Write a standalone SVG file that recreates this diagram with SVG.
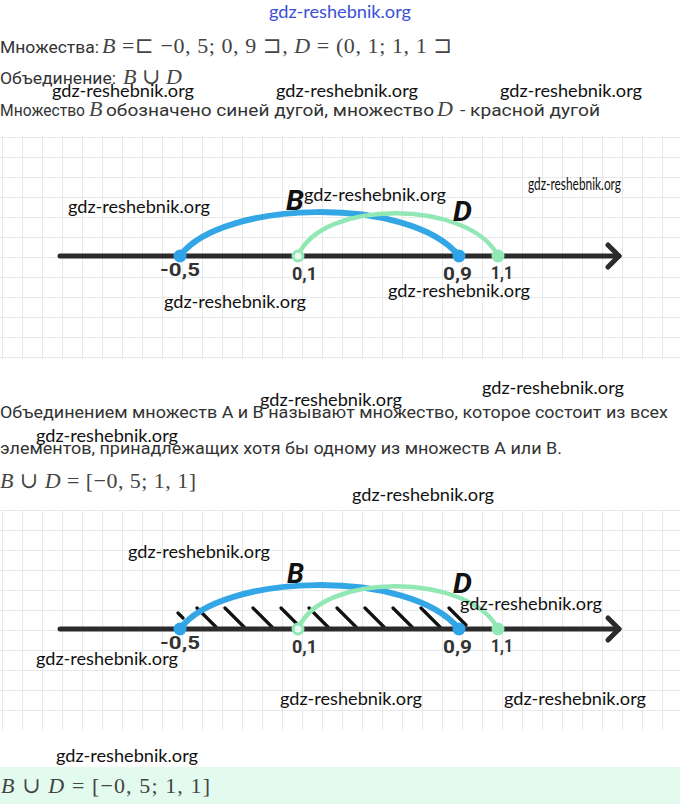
<svg xmlns="http://www.w3.org/2000/svg" width="680" height="804" viewBox="0 0 680 804">
<defs>
<style>
.t{font-family:Roboto,"Noto Sans",sans-serif;font-size:16.5px;fill:#333}
.m{font-family:"Liberation Serif","DejaVu Serif",serif;font-size:22px;fill:#444}
.mi{font-style:italic}
.wm{font-family:Lato,"Open Sans",sans-serif;font-size:18px;fill:#111}
.lbl{font-family:Roboto,sans-serif;font-weight:700;font-size:19px;fill:#333}
.set{font-family:Roboto,sans-serif;font-weight:700;font-style:italic;font-size:27px;fill:#111}
.axis{stroke:#2b2b2b;stroke-width:5;fill:none;stroke-linecap:round;stroke-linejoin:round}
.arcB{stroke:#33a6e6;stroke-width:6;fill:none;stroke-linecap:round}
.arcD{stroke:#92e8b5;stroke-width:4.5;fill:none;stroke-linecap:round}
.hatch{stroke:#111;stroke-width:3.2;stroke-linecap:round}
</style>
<pattern id="grid" x="2" y="137" width="20" height="20" patternUnits="userSpaceOnUse">
<path d="M0 0 H20 M0 0 V20" stroke="#e2e2e2" stroke-width="1.6" fill="none"/>
</pattern>
<pattern id="grid2" x="2" y="510" width="20" height="20" patternUnits="userSpaceOnUse">
<path d="M0 0 H20 M0 0 V20" stroke="#e2e2e2" stroke-width="1.6" fill="none"/>
</pattern>
</defs>
<rect width="680" height="804" fill="#fff"/>

<!-- header text -->
<text x="269" y="18" font-family="Lato,sans-serif" font-size="17" fill="#3b50d8" textLength="142" lengthAdjust="spacingAndGlyphs">gdz-reshebnik.org</text>

<text class="t" x="0" y="53" textLength="99" lengthAdjust="spacingAndGlyphs">Множества:</text>
<text class="m" x="102" y="53" textLength="350" lengthAdjust="spacing"><tspan class="mi">B</tspan> =⊏ −0, 5;  0, 9 ⊐,  <tspan class="mi">D</tspan> = (0, 1;  1, 1 ⊐</text>

<text class="t" x="0" y="84" textLength="116" lengthAdjust="spacingAndGlyphs">Объединение:</text>
<text class="m" x="123" y="84"><tspan class="mi">B</tspan> ∪ <tspan class="mi">D</tspan></text>

<text class="wm" x="52" y="97" textLength="142" lengthAdjust="spacingAndGlyphs">gdz-reshebnik.org</text>
<text class="wm" x="276" y="97" textLength="142" lengthAdjust="spacingAndGlyphs">gdz-reshebnik.org</text>
<text class="wm" x="500" y="97" textLength="142" lengthAdjust="spacingAndGlyphs">gdz-reshebnik.org</text>

<text class="t" x="0" y="116" textLength="85" lengthAdjust="spacingAndGlyphs">Множество</text>
<text class="m mi" x="89" y="116">B</text>
<text class="t" x="106" y="116" textLength="328" lengthAdjust="spacingAndGlyphs">обозначено синей дугой, множество</text>
<text class="m mi" x="437" y="116">D</text>
<text class="t" x="460" y="116" textLength="140" lengthAdjust="spacingAndGlyphs">- красной дугой</text>

<!-- graph 1 -->
<g id="graph1">
<rect x="0" y="135" width="680" height="224" fill="url(#grid)"/>
<g id="connectors1">
<path class="axis" d="M60 256 H619"/>
<path class="axis" d="M608 245 L619 256 L608 267"/>
<path class="arcB" d="M180 256 C220 200 410 195 459 256"/>
<path class="arcD" d="M298 256 C322 198 470 200 498 256"/>
</g>
<g id="p1-m05"><circle cx="180" cy="256" r="6.5" fill="#2ea3e8"/><text class="lbl" x="160" y="276" textLength="40" lengthAdjust="spacingAndGlyphs">-0,5</text></g>
<g id="p1-01"><circle cx="298" cy="256" r="5" fill="#e9f9ef" stroke="#92e8b5" stroke-width="3"/><text class="lbl" x="292" y="280" textLength="25" lengthAdjust="spacingAndGlyphs">0,1</text></g>
<g id="p1-09"><circle cx="459" cy="256" r="6.5" fill="#2ea3e8"/><text class="lbl" x="443" y="280" textLength="29" lengthAdjust="spacingAndGlyphs">0,9</text></g>
<g id="p1-11"><circle cx="498" cy="256" r="6.5" fill="#92e8b5"/><text class="lbl" x="491" y="279" textLength="22" lengthAdjust="spacingAndGlyphs">1,1</text></g>
<text class="set" x="286" y="210" textLength="18" lengthAdjust="spacingAndGlyphs">B</text>
<text class="set" x="453" y="221" textLength="19" lengthAdjust="spacingAndGlyphs">D</text>
<text class="wm" x="68" y="213" textLength="142" lengthAdjust="spacingAndGlyphs">gdz-reshebnik.org</text>
<text class="wm" x="304" y="201" textLength="142" lengthAdjust="spacingAndGlyphs">gdz-reshebnik.org</text>
<text class="wm" x="528" y="190" font-size="12" textLength="93" lengthAdjust="spacingAndGlyphs">gdz-reshebnik.org</text>
<text class="wm" x="388" y="297" textLength="142" lengthAdjust="spacingAndGlyphs">gdz-reshebnik.org</text>
<text class="wm" x="164" y="308" textLength="142" lengthAdjust="spacingAndGlyphs">gdz-reshebnik.org</text>
</g>

<!-- middle text -->
<text class="wm" x="482" y="394" textLength="142" lengthAdjust="spacingAndGlyphs">gdz-reshebnik.org</text>
<text class="wm" x="260" y="406" textLength="142" lengthAdjust="spacingAndGlyphs">gdz-reshebnik.org</text>
<text class="t" x="0" y="418" textLength="668" lengthAdjust="spacingAndGlyphs">Объединением множеств А и В называют множество, которое состоит из всех</text>
<text class="wm" x="36" y="442" textLength="142" lengthAdjust="spacingAndGlyphs">gdz-reshebnik.org</text>
<text class="t" x="0" y="454" textLength="562" lengthAdjust="spacingAndGlyphs">элементов, принадлежащих хотя бы одному из множеств А или В.</text>
<text class="m" x="0" y="488" textLength="196" lengthAdjust="spacing"><tspan class="mi">B</tspan> ∪ <tspan class="mi">D</tspan> = [−0, 5;  1, 1]</text>
<text class="wm" x="352" y="501" textLength="142" lengthAdjust="spacingAndGlyphs">gdz-reshebnik.org</text>

<!-- graph 2 -->
<g id="graph2">
<rect x="0" y="510" width="680" height="220" fill="url(#grid2)"/>
<g id="hatching">
<path class="hatch" d="M178 613 L183 618 M197 608 L216 627 M225 608 L244 627 M253 608 L272 627 M281 608 L300 627 M309 608 L328 627 M337 608 L356 627 M365 608 L384 627 M393 608 L412 627 M421 608 L440 627 M449 608 L466 625"/>
</g>
<g id="connectors2">
<path class="axis" d="M60 629 H619"/>
<path class="axis" d="M608 618 L619 629 L608 640"/>
<path class="arcB" d="M180 629 C220 573 410 568 459 629"/>
<path class="arcD" d="M298 629 C322 571 470 573 498 629"/>
</g>
<g id="p2-m05"><circle cx="180" cy="629" r="6.5" fill="#2ea3e8"/><text class="lbl" x="160" y="649" textLength="40" lengthAdjust="spacingAndGlyphs">-0,5</text></g>
<g id="p2-01"><circle cx="298" cy="629" r="5" fill="#e9f9ef" stroke="#92e8b5" stroke-width="3"/><text class="lbl" x="292" y="653" textLength="25" lengthAdjust="spacingAndGlyphs">0,1</text></g>
<g id="p2-09"><circle cx="459" cy="629" r="6.5" fill="#2ea3e8"/><text class="lbl" x="443" y="653" textLength="29" lengthAdjust="spacingAndGlyphs">0,9</text></g>
<g id="p2-11"><circle cx="498" cy="629" r="6.5" fill="#92e8b5"/><text class="lbl" x="491" y="652" textLength="22" lengthAdjust="spacingAndGlyphs">1,1</text></g>
<text class="set" x="287" y="583" textLength="17" lengthAdjust="spacingAndGlyphs">B</text>
<text class="set" x="453" y="593" textLength="19" lengthAdjust="spacingAndGlyphs">D</text>
<text class="wm" x="128" y="558" textLength="142" lengthAdjust="spacingAndGlyphs">gdz-reshebnik.org</text>
<text class="wm" x="460" y="610" textLength="142" lengthAdjust="spacingAndGlyphs">gdz-reshebnik.org</text>
<text class="wm" x="36" y="665" textLength="142" lengthAdjust="spacingAndGlyphs">gdz-reshebnik.org</text>
<text class="wm" x="280" y="705" textLength="142" lengthAdjust="spacingAndGlyphs">gdz-reshebnik.org</text>
<text class="wm" x="504" y="705" textLength="142" lengthAdjust="spacingAndGlyphs">gdz-reshebnik.org</text>
</g>

<!-- bottom answer -->
<text class="wm" x="56" y="762" textLength="142" lengthAdjust="spacingAndGlyphs">gdz-reshebnik.org</text>
<rect x="0" y="767" width="680" height="37" fill="#e3fbee"/>
<text class="m" x="1" y="793" font-size="23" textLength="209" lengthAdjust="spacing"><tspan class="mi">B</tspan> ∪ <tspan class="mi">D</tspan> = [−0, 5;  1, 1]</text>
</svg>
